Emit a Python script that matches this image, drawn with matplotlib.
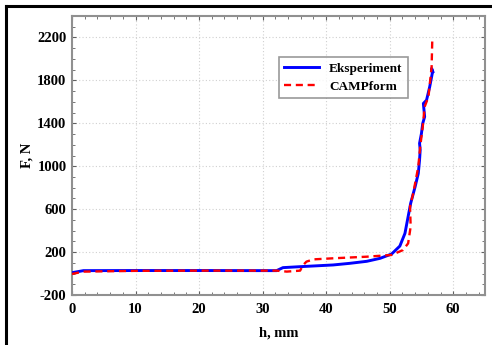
import matplotlib
matplotlib.use("Agg")
import matplotlib.pyplot as plt
from matplotlib.ticker import MultipleLocator
from matplotlib.lines import Line2D

exp_h = [0, 1.8, 10, 20, 32.2, 33.2, 35.9, 41.1, 43.7, 46.4, 48.5, 50.3, 51.6, 52.4, 52.9,
         53.3, 54.0, 54.5, 54.7, 54.8, 54.7, 55.0, 55.2, 55.5, 55.4, 55.3, 55.8, 56.3, 56.7, 56.6, 56.8]
exp_F = [8, 27, 28, 28, 27, 55, 64, 80, 95, 114, 142, 182, 256, 374, 530,
         654, 809, 933, 1057, 1151, 1213, 1306, 1399, 1461, 1523, 1585, 1616, 1741, 1865, 1911, 1880]

cam_h = [0, 1.8, 10, 20, 32.2, 33.8, 35.9, 36.4, 36.9, 38.0, 41.1, 46.4, 50.3, 52.1, 52.9,
         53.3, 53.2, 53.7, 54.5, 54.8, 55.2, 55.5, 56.1, 56.6, 56.7]
cam_F = [-4, 18, 25, 27, 27, 18, 27, 80, 111, 132, 142, 157, 173, 219, 281,
         437, 623, 747, 995, 1182, 1368, 1554, 1647, 1927, 2175]

xticks = [0, 10, 20, 30, 40, 50, 60]
yticks = [-200, 200, 600, 1000, 1400, 1800, 2200]

plt.rcParams['font.family'] = ['Liberation Serif', 'DejaVu Serif']
plt.rcParams['font.weight'] = 'bold'
plt.rcParams['axes.unicode_minus'] = False

fig = plt.figure(figsize=(4.92, 3.45), dpi=100)
ax = fig.add_axes([72/492, 1 - 295/345, (485-72)/492, (295-16)/345])

ax.plot(exp_h, exp_F, color='#0000ff', lw=2.1, label='Eksperiment', zorder=3)
ax.plot(cam_h, cam_F, color='#ff0000', lw=1.7, ls=(0, (3, 2)), label='CAMPform', zorder=4)

ax.set_xlim(0, 65)
ax.set_ylim(-200, 2400)
ax.set_xticks(xticks)
ax.set_yticks(yticks)
ax.xaxis.set_minor_locator(MultipleLocator(2))
ax.yaxis.set_minor_locator(MultipleLocator(100))
ax.tick_params(which='both', direction='in', top=True, right=True, color='#606060')
ax.tick_params(which='major', length=3, width=0.8, labelsize=10.5)
ax.tick_params(axis='x', which='major', pad=6)
ax.tick_params(axis='y', which='major', pad=4)
ax.tick_params(which='minor', length=2, width=0.6)
for lab in ax.get_xticklabels() + ax.get_yticklabels():
    lab.set_fontweight('bold')
ax.grid(True, which='major', color='#d0d0d0', ls=(0, (1, 2)), lw=0.8)
for s in ax.spines.values():
    s.set_color('#909090')
    s.set_linewidth(1.5)

ax.set_xlabel('h, mm', fontsize=10.5, fontweight='bold', labelpad=7)
ax.set_ylabel('F, N', fontsize=10.5, fontweight='bold', labelpad=3)

leg = ax.legend(loc='upper left', bbox_to_anchor=((279-72)/413, 1 - (57-16)/279),
                borderaxespad=0, fontsize=9.5, frameon=True, fancybox=False, edgecolor='#808080',
                handlelength=2.6, borderpad=0.4, labelspacing=0.45, handletextpad=0.8)
leg.get_frame().set_linewidth(1.2)
for t in leg.get_texts():
    t.set_fontweight('bold')

# outer border (top and left visible)
fig.add_artist(Line2D([6/492, 1], [1 - 5.5/345, 1 - 5.5/345], transform=fig.transFigure, color='black', lw=2.2))
fig.add_artist(Line2D([6/492, 6/492], [0, 1 - 5.5/345], transform=fig.transFigure, color='black', lw=2.2))

fig.savefig('out.png', dpi=100)
